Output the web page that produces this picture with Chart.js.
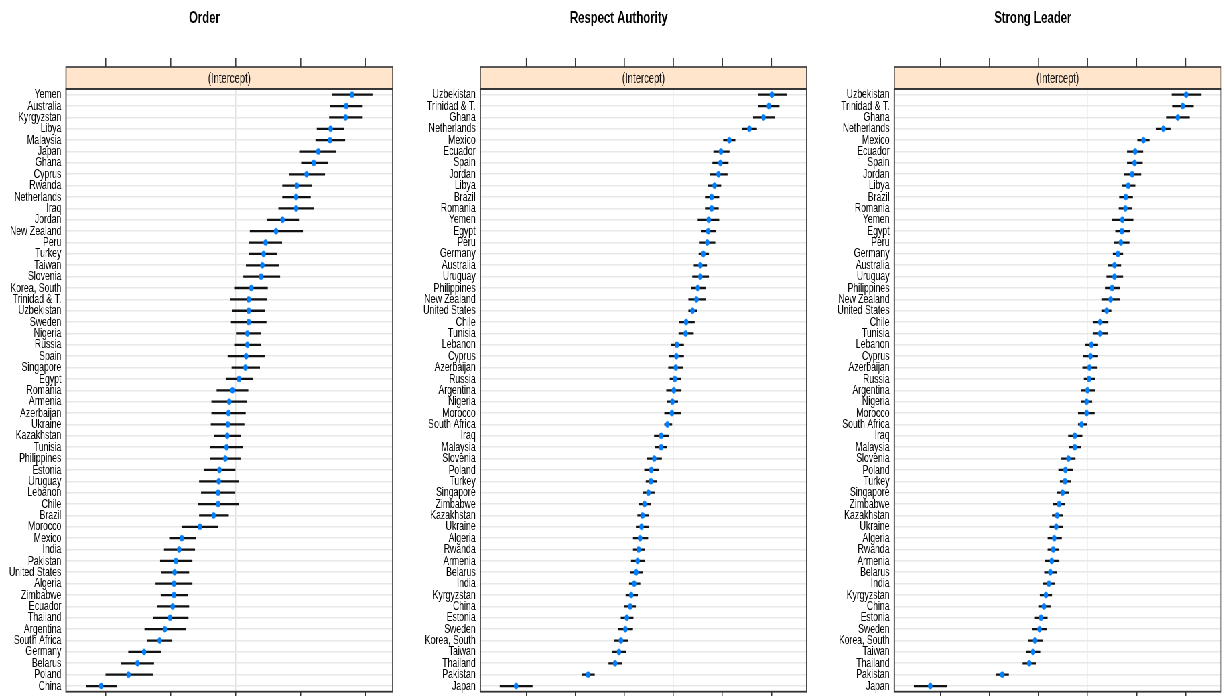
<!DOCTYPE html>
<html>
<head>
<meta charset="utf-8">
<script src="https://cdn.jsdelivr.net/npm/chart.js@4/dist/chart.umd.min.js"></script>
<style>
  html, body { margin: 0; padding: 0; background: #fff; overflow: hidden; width: 1226px; height: 696px; }
  /* a figura original é estreita na horizontal: desenha largo e comprime */
  #page { position: absolute; left: 0; top: 0; width: 1830px; height: 700px; transform: scaleX(0.67); transform-origin: 0 0; }
  #page canvas { position: absolute; top: 0; }
</style>
</head>
<body>
<div id="page">
  <canvas id="chart-order"   width="600" height="700" style="left:0px"></canvas>
  <canvas id="chart-respect" width="605" height="700" style="left:610px"></canvas>
  <canvas id="chart-leader"  width="605" height="700" style="left:1225px"></canvas>
</div>
<script>
'use strict';

/* ── Painel 1: Order ── */
const orderCountries = ['Yemen', 'Australia', 'Kyrgyzstan', 'Libya', 'Malaysia', 'Japan', 'Ghana', 'Cyprus', 'Rwanda',
  'Netherlands', 'Iraq', 'Jordan', 'New Zealand', 'Peru', 'Turkey', 'Taiwan', 'Slovenia', 'Korea, South', 'Trinidad & T.',
  'Uzbekistan', 'Sweden', 'Nigeria', 'Russia', 'Spain', 'Singapore', 'Egypt', 'Romania', 'Armenia', 'Azerbaijan', 'Ukraine',
  'Kazakhstan', 'Tunisia', 'Philippines', 'Estonia', 'Uruguay', 'Lebanon', 'Chile', 'Brazil', 'Morocco', 'Mexico', 'India',
  'Pakistan', 'United States', 'Algeria', 'Zimbabwe', 'Ecuador', 'Thailand', 'Argentina', 'South Africa', 'Germany',
  'Belarus', 'Poland', 'China'];
const orderEst = [1.79, 1.70, 1.69, 1.46, 1.45, 1.27, 1.20, 1.09, 0.94, 0.93, 0.93, 0.72, 0.62, 0.46, 0.43, 0.41, 0.39,
  0.24, 0.20, 0.20, 0.20, 0.18, 0.18, 0.16, 0.15, 0.05, -0.05, -0.10, -0.11, -0.12, -0.13, -0.14, -0.16, -0.25, -0.26,
  -0.27, -0.27, -0.34, -0.55, -0.83, -0.87, -0.92, -0.94, -0.95, -0.95, -0.97, -1.01, -1.09, -1.17, -1.41, -1.51, -1.65, -2.07];
const orderLo = [1.48, 1.45, 1.44, 1.25, 1.23, 0.99, 1.01, 0.82, 0.72, 0.72, 0.66, 0.48, 0.22, 0.21, 0.21, 0.16, 0.12,
  -0.02, -0.08, -0.05, -0.07, 0.00, -0.02, -0.12, -0.06, -0.15, -0.29, -0.37, -0.37, -0.38, -0.33, -0.39, -0.39, -0.49,
  -0.56, -0.53, -0.58, -0.56, -0.83, -1.02, -1.10, -1.16, -1.14, -1.23, -1.15, -1.21, -1.27, -1.40, -1.36, -1.65, -1.76,
  -2.00, -2.30];
const orderHi = [2.10, 1.95, 1.95, 1.66, 1.68, 1.54, 1.42, 1.37, 1.17, 1.15, 1.20, 0.98, 1.03, 0.71, 0.63, 0.66, 0.68,
  0.49, 0.48, 0.45, 0.47, 0.38, 0.39, 0.45, 0.37, 0.26, 0.19, 0.17, 0.15, 0.13, 0.08, 0.11, 0.07, 0.00, 0.05, -0.01, 0.05,
  -0.11, -0.27, -0.62, -0.63, -0.67, -0.72, -0.67, -0.74, -0.72, -0.73, -0.77, -0.98, -1.15, -1.26, -1.28, -1.83];
const orderTicks = [-2, -1, 0, 1, 2];

/* ── Painel 2: Respect Authority ── */
const respectCountries = ['Uzbekistan', 'Trinidad & T.', 'Ghana', 'Netherlands', 'Mexico', 'Ecuador', 'Spain', 'Jordan',
  'Libya', 'Brazil', 'Romania', 'Yemen', 'Egypt', 'Peru', 'Germany', 'Australia', 'Uruguay', 'Philippines', 'New Zealand',
  'United States', 'Chile', 'Tunisia', 'Lebanon', 'Cyprus', 'Azerbaijan', 'Russia', 'Argentina', 'Nigeria', 'Morocco',
  'South Africa', 'Iraq', 'Malaysia', 'Slovenia', 'Poland', 'Turkey', 'Singapore', 'Zimbabwe', 'Kazakhstan', 'Ukraine',
  'Algeria', 'Rwanda', 'Armenia', 'Belarus', 'India', 'Kyrgyzstan', 'China', 'Estonia', 'Sweden', 'Korea, South', 'Taiwan',
  'Thailand', 'Pakistan', 'Japan'];
const respectEst = [2.01, 1.95, 1.84, 1.55, 1.14, 0.97, 0.96, 0.92, 0.84, 0.78, 0.78, 0.72, 0.71, 0.69, 0.61, 0.55, 0.55,
  0.50, 0.47, 0.39, 0.26, 0.25, 0.07, 0.06, 0.05, 0.03, 0.01, -0.02, -0.03, -0.12, -0.25, -0.25, -0.39, -0.45, -0.46,
  -0.51, -0.59, -0.63, -0.65, -0.68, -0.71, -0.73, -0.76, -0.80, -0.86, -0.88, -0.95, -0.98, -1.07, -1.11, -1.19, -1.74, -3.21];
const respectLo = [1.73, 1.73, 1.63, 1.41, 1.02, 0.82, 0.80, 0.75, 0.71, 0.65, 0.65, 0.50, 0.57, 0.54, 0.52, 0.42, 0.39,
  0.37, 0.31, 0.31, 0.12, 0.11, -0.05, -0.08, -0.10, -0.07, -0.14, -0.12, -0.18, -0.18, -0.39, -0.37, -0.53, -0.59, -0.56,
  -0.62, -0.70, -0.73, -0.76, -0.82, -0.82, -0.86, -0.88, -0.90, -0.97, -1.00, -1.07, -1.12, -1.20, -1.24, -1.32, -1.87, -3.54];
const respectHi = [2.31, 2.16, 2.07, 1.70, 1.26, 1.14, 1.12, 1.10, 0.97, 0.93, 0.92, 0.93, 0.86, 0.85, 0.72, 0.68, 0.72,
  0.65, 0.66, 0.48, 0.43, 0.41, 0.21, 0.21, 0.20, 0.15, 0.16, 0.09, 0.15, -0.03, -0.10, -0.14, -0.24, -0.30, -0.34, -0.39,
  -0.46, -0.51, -0.51, -0.52, -0.59, -0.58, -0.63, -0.68, -0.73, -0.77, -0.82, -0.83, -0.93, -0.97, -1.05, -1.61, -2.88];
const respectTicks = [-3, -2, -1, 0, 1, 2];

/* ── Painel 3: Strong Leader ── */
const leaderCountries = ['Uzbekistan', 'Trinidad & T.', 'Ghana', 'Netherlands', 'Mexico', 'Ecuador', 'Spain', 'Jordan',
  'Libya', 'Brazil', 'Romania', 'Yemen', 'Egypt', 'Peru', 'Germany', 'Australia', 'Uruguay', 'Philippines', 'New Zealand',
  'United States', 'Chile', 'Tunisia', 'Lebanon', 'Cyprus', 'Azerbaijan', 'Russia', 'Argentina', 'Nigeria', 'Morocco',
  'South Africa', 'Iraq', 'Malaysia', 'Slovenia', 'Poland', 'Turkey', 'Singapore', 'Zimbabwe', 'Kazakhstan', 'Ukraine',
  'Algeria', 'Rwanda', 'Armenia', 'Belarus', 'India', 'Kyrgyzstan', 'China', 'Estonia', 'Sweden', 'Korea, South', 'Taiwan',
  'Thailand', 'Pakistan', 'Japan'];
const leaderEst = [2.01, 1.94, 1.84, 1.55, 1.14, 0.97, 0.96, 0.91, 0.83, 0.78, 0.77, 0.71, 0.70, 0.68, 0.62, 0.55, 0.55,
  0.50, 0.47, 0.39, 0.26, 0.26, 0.08, 0.06, 0.04, 0.03, 0.00, -0.02, -0.02, -0.12, -0.26, -0.26, -0.39, -0.45, -0.46,
  -0.51, -0.58, -0.62, -0.64, -0.68, -0.70, -0.73, -0.76, -0.79, -0.85, -0.89, -0.95, -0.98, -1.07, -1.11, -1.19, -1.74, -3.21];
const leaderLo = [1.72, 1.73, 1.62, 1.41, 1.02, 0.81, 0.81, 0.74, 0.71, 0.65, 0.64, 0.50, 0.57, 0.54, 0.52, 0.42, 0.39,
  0.36, 0.30, 0.30, 0.11, 0.11, -0.04, -0.08, -0.10, -0.07, -0.13, -0.13, -0.19, -0.19, -0.39, -0.37, -0.53, -0.59, -0.56,
  -0.62, -0.70, -0.72, -0.77, -0.81, -0.81, -0.87, -0.88, -0.91, -0.97, -1.00, -1.07, -1.13, -1.21, -1.25, -1.32, -1.87, -3.54];
const leaderHi = [2.32, 2.16, 2.08, 1.70, 1.26, 1.13, 1.12, 1.09, 0.97, 0.92, 0.91, 0.93, 0.86, 0.85, 0.72, 0.68, 0.72,
  0.66, 0.66, 0.48, 0.42, 0.41, 0.21, 0.21, 0.20, 0.15, 0.15, 0.09, 0.14, -0.02, -0.11, -0.14, -0.25, -0.30, -0.34, -0.39,
  -0.47, -0.51, -0.51, -0.53, -0.59, -0.58, -0.63, -0.67, -0.73, -0.76, -0.82, -0.83, -0.92, -0.97, -1.06, -1.61, -2.87];
const leaderTicks = [-3, -2, -1, 0, 1, 2];

const FONT = '"Liberation Sans", Arial, Helvetica, sans-serif';
const STRIP_H = 22;

/* Título, faixa "(Intercept)", ticks superiores e moldura do painel */
const stripPlugin = {
  id: 'strip',
  afterDraw(chart, args, opts) {
    const { ctx, chartArea: a } = chart;
    const x = chart.scales.x;
    const mid = (a.left + a.right) / 2;
    const stripTop = a.top - STRIP_H;
    ctx.save();
    ctx.textAlign = 'center';
    ctx.textBaseline = 'middle';

    /* título centrado na região inteira do painel (rótulos + área) */
    ctx.fillStyle = '#000';
    ctx.font = 'bold 17px ' + FONT;
    ctx.fillText(opts.title, a.left + 206.7, 18);

    ctx.fillStyle = '#ffe5cc';
    ctx.fillRect(a.left, stripTop, a.right - a.left, STRIP_H);
    ctx.strokeStyle = '#333';
    ctx.lineWidth = 1.6;
    ctx.strokeRect(a.left, stripTop, a.right - a.left, STRIP_H);
    ctx.fillStyle = '#111';
    ctx.font = '14px ' + FONT;
    ctx.fillText('(Intercept)', mid, stripTop + STRIP_H / 2 + 1);

    ctx.lineWidth = 1.5;
    ctx.beginPath();
    x.ticks.forEach(t => {
      const px = x.getPixelForValue(t.value);
      ctx.moveTo(px, stripTop);
      ctx.lineTo(px, stripTop - 9);
    });
    ctx.stroke();

    ctx.lineWidth = 1.8;
    ctx.strokeRect(a.left, a.top, a.right - a.left, a.bottom - a.top);
    ctx.restore();
  },
};

function renderPanel(id, title, countries, est, lo, hi, ticks, xMin, xMax, yWidth, padRight) {
  return new Chart(document.getElementById(id), {
    type: 'bar',
    data: {
      labels: countries,
      datasets: [
        {
          type: 'line',
          indexAxis: 'y',
          data: est,
          showLine: false,
          pointRadius: 3,
          pointBorderWidth: 0.6,
          pointBackgroundColor: '#0080ff',
          pointBorderColor: '#0080ff',
          order: 0,
        },
        {
          /* intervalo: barra flutuante fina [lo, hi] */
          type: 'bar',
          data: lo.map((v, i) => [v, hi[i]]),
          backgroundColor: '#111',
          borderWidth: 0,
          barThickness: 1.6,
          order: 1,
        },
      ],
    },
    options: {
      indexAxis: 'y',
      responsive: false,
      animation: false,
      events: [],
      layout: { padding: { top: 89, right: padRight, left: 0, bottom: 0 } },
      plugins: {
        legend: { display: false },
        tooltip: { enabled: false },
        strip: { title },
      },
      scales: {
        x: {
          type: 'linear',
          min: xMin,
          max: xMax,
          afterBuildTicks: s => { s.ticks = ticks.map(v => ({ value: v })); },
          afterFit: s => { s.height = 8.3; s.paddingLeft = 0; s.paddingRight = 0; },
          ticks: { display: false },
          border: { display: false },
          grid: {
            color: c => (c.tick && c.tick.value === 0 ? '#e4e4e4' : 'rgba(0,0,0,0)'),
            lineWidth: 1.5,
            drawTicks: true,
            tickLength: 8,
            tickColor: '#333',
            tickWidth: 1.5,
          },
        },
        y: {
          type: 'category',
          offset: true,
          afterFit: s => { s.width = yWidth; s.paddingTop = 0; s.paddingBottom = 0; },
          border: { display: false },
          grid: { offset: false, color: '#e8e8e8', lineWidth: 1.6, drawTicks: false },
          ticks: { autoSkip: false, padding: 7, color: '#000', font: { family: FONT, size: 13 } },
        },
      },
    },
    plugins: [stripPlugin],
  });
}

renderPanel('chart-order', 'Order', orderCountries, orderEst, orderLo, orderHi, orderTicks,
  -2.611, 2.415, 98.5, 13.9);
renderPanel('chart-respect', 'Respect Authority', respectCountries, respectEst, respectLo, respectHi, respectTicks,
  -3.94, 2.72, 106.9, 11);
renderPanel('chart-leader', 'Strong Leader', leaderCountries, leaderEst, leaderLo, leaderHi, leaderTicks,
  -3.943, 2.724, 109.8, 7.6);
</script>
</body>
</html>
